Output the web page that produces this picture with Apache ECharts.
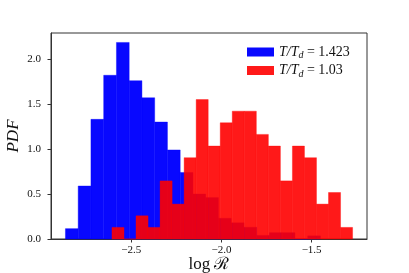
<!DOCTYPE html>
<html>
<head>
<meta charset="utf-8">
<script src="https://cdn.jsdelivr.net/npm/echarts@6/dist/echarts.min.js"></script>
<style>html,body{margin:0;padding:0;background:#fff}#c{width:409px;height:273px}</style>
</head>
<body>
<div id="c"></div>
<script>
// Histogram bin layout (log R)
var blueBinStart = -2.865, blueBinWidth = 0.0707;
var redBinStart = -2.607, redBinWidth = 0.0667;
// PDF values per bin
var blueValues = [0.115, 0.589, 1.33, 1.82, 2.185, 1.76, 1.57, 1.30, 0.99, 0.74,
                  0.50, 0.46, 0.23, 0.18, 0.13, 0.04, 0.07, 0.07, 0, 0.035];
var redValues = [0.129, 0, 0.258, 0.129, 0.646, 0.388, 0.904, 1.55, 1.033, 1.292,
                 1.421, 1.421, 1.163, 1.033, 0.646, 1.033, 0.904, 0.388, 0.517, 0.129];
var xTicks = [-2.5, -2.0, -1.5];
var yTicks = [0, 0.5, 1.0, 1.5, 2.0];
var blueName = 'T/T_d = 1.423';
var redName = 'T/T_d = 1.03';

function bins(start, width, vals) {
  return vals.map(function (v, i) { return [start + i * width, start + (i + 1) * width, v]; });
}
function renderBar(params, api) {
  var p0 = api.coord([api.value(0), 0]);
  var p1 = api.coord([api.value(1), api.value(2)]);
  var st = api.style();
  st.stroke = st.fill;
  st.lineWidth = 0.4;
  return {
    type: 'rect',
    shape: { x: p0[0], y: p1[1], width: p1[0] - p0[0], height: p0[1] - p1[1] },
    style: st
  };
}
var serif = '"Liberation Serif", "DejaVu Serif", serif';
var chart = echarts.init(document.getElementById('c'), null, { renderer: 'canvas' });
chart.setOption({
  animation: false,
  backgroundColor: '#fff',
  grid: { left: 51, right: 42, top: 33, bottom: 34, containLabel: false, outerBoundsMode: 'none',
          show: true, borderColor: '#333', borderWidth: 1, backgroundColor: 'transparent' },
  legend: {
    data: [blueName, redName],
    orient: 'vertical',
    left: 242, top: 40,
    itemWidth: 27, itemHeight: 9, itemGap: 3,
    icon: 'rect',
    formatter: function (n) {
      return n === blueName ? '{i|T/T}{s|d}{n| = 1.423}' : '{i|T/T}{s|d}{n| = 1.03}';
    },
    textStyle: {
      color: '#111',
      rich: {
        i: { fontFamily: serif, fontStyle: 'italic', fontSize: 14, color: '#111' },
        s: { fontFamily: serif, fontStyle: 'italic', fontSize: 10, color: '#111', padding: [7, 0, 0, 0] },
        n: { fontFamily: serif, fontSize: 14, color: '#111' }
      }
    }
  },
  xAxis: {
    type: 'value', min: -2.945, max: -1.193,
    name: 'log \u211B', nameLocation: 'middle', nameGap: 17, nameMoveOverlap: false,
    nameTextStyle: { fontFamily: serif, fontSize: 17, color: '#111' },
    axisLine: { lineStyle: { color: '#333' } },
    axisTick: { show: true, length: 3.5, lineStyle: { color: '#333' }, customValues: xTicks },
    axisLabel: {
      customValues: xTicks, margin: 6, fontFamily: serif, fontSize: 11, color: '#111',
      formatter: function (v) { return (v < 0 ? '\u2212' : '') + Math.abs(v).toFixed(1); }
    },
    splitLine: { show: false }
  },
  yAxis: {
    type: 'value', min: 0, max: 2.29,
    name: 'PDF', nameLocation: 'middle', nameGap: 29, nameMoveOverlap: false,
    nameTextStyle: { fontFamily: serif, fontStyle: 'italic', fontSize: 17, color: '#111' },
    axisLine: { show: true, lineStyle: { color: '#333' } },
    axisTick: { show: true, length: 3.5, lineStyle: { color: '#333' }, customValues: yTicks },
    axisLabel: {
      customValues: yTicks, margin: 10, fontFamily: serif, fontSize: 11, color: '#111',
      formatter: function (v) { return v.toFixed(1); }
    },
    splitLine: { show: false }
  },
  series: [
    {
      name: blueName, type: 'custom', renderItem: renderBar,
      itemStyle: { color: 'rgba(0,0,255,0.97)' },
      encode: { x: [0, 1], y: 2 },
      data: bins(blueBinStart, blueBinWidth, blueValues)
    },
    {
      name: redName, type: 'custom', renderItem: renderBar,
      itemStyle: { color: 'rgba(255,0,0,0.9)' },
      encode: { x: [0, 1], y: 2 },
      data: bins(redBinStart, redBinWidth, redValues)
    }
  ]
});
</script>
</body>
</html>
